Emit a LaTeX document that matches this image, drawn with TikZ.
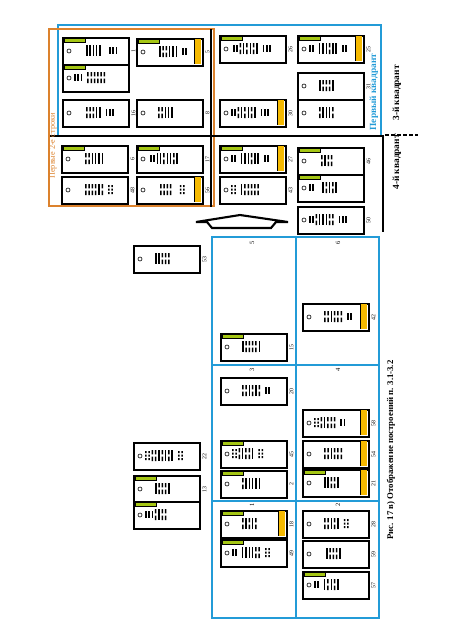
\documentclass[tikz,border=0pt]{standalone}
\usepackage{fontspec}
\setmainfont{Liberation Serif}
\usetikzlibrary{calc}
\definecolor{quadblue}{RGB}{35,155,215}
\definecolor{rowsorange}{RGB}{220,130,45}
\definecolor{tabgreen}{RGB}{165,198,20}
\definecolor{tabamber}{RGB}{245,185,0}
\tikzset{
  card/.style={rectangle, draw, line width=1.3pt, fill=white, anchor=north west,
    minimum width=1.98cm, minimum height=0.81cm, inner sep=0pt},
  greentab/.style={fill=tabgreen, draw=black, line width=0.4pt},
  cardno/.style={rotate=90, inner sep=0pt, font=\fontsize{5}{6}\selectfont},
  cellno/.style={rotate=90, inner sep=0pt, font=\fontsize{5.5}{6}\selectfont},
  quadline/.style={draw=quadblue, line width=1.2pt},
  rowsline/.style={draw=rowsorange, line width=1.2pt},
  axisline/.style={line width=2pt},
  vtext/.style={rotate=90, inner sep=0pt, font=\fontsize{8}{9}\selectfont\bfseries},
}
% one card: name, top-left, number, green tab, amber tab, bars start, bars
\newcommand{\unitcard}[7]{%
  \node[card] (#1) at (#2) {};
  \begin{scope}[shift={(#1.north west)}]
    \ifnum#4=1 \filldraw[greentab] (2,1.6) rectangle (23,5.4); \fi
    \ifnum#5=1 \fill[tabamber] (58,0.8) rectangle (65.2,26.2);
      \draw[line width=0.4pt] (58,0.8) -- (58,26.2); \fi
    \draw[line width=0.5pt] (7,14) circle (0.06cm);
    \foreach \b [count=\i] in {#7} {
      \pgfmathsetmacro\bx{#6+(\i-1)*3.3}
      \if l\b \fill (\bx,8) rectangle ++(1.5,11); \fi
      \if d\b \fill (\bx,8) rectangle ++(1.5,4.3) (\bx,14.6) rectangle ++(1.5,4.4); \fi
      \if t\b \fill (\bx,9) rectangle ++(1.5,2) (\bx,12.6) rectangle ++(1.5,2)
                   (\bx,16.2) rectangle ++(1.5,2); \fi
      \if s\b \fill (\bx,10) rectangle ++(1.5,7); \fi
    }
  \end{scope}
  \if\relax\detokenize{#3}\relax\else
    \node[cardno] (#1-no) at ([xshift=0.12cm]#1.east) {#3};
  \fi
}

\begin{document}
\begin{tikzpicture}[x=0.03cm, y=-0.03cm]
  \useasboundingbox (0,0) rectangle (450,637);

  % frames of the first quadrant
  \draw[quadline] (58,25) rectangle (381,136);
  \draw[rowsline] (49,29) rectangle (214,206);
  \draw[axisline] (211,29) -- (211,207);
  \draw[axisline] (50,136) -- (384,136);
  \draw[axisline] (383,136) -- (383,232);
  \draw[axisline, dash pattern=on 3.2pt off 2pt] (385,135) -- (418,135);

  % first quadrant
  \unitcard{c1}{62,37}{1}{1}{0}{24}{l,l,l,l,l,n,n,s,s,s}
  \unitcard{c1b}{62,64}{}{1}{0}{12}{s,s,s,n,d,d,d,d,d,d}
  \unitcard{c5}{136,38}{5}{1}{1}{23}{l,d,d,l,l,l,n,s,s}
  \unitcard{c16}{62,99}{16}{0}{0}{24}{d,d,d,l,l,n,s,s,s}
  \unitcard{c8}{136,99}{8}{0}{0}{22}{d,d,l,l,l}
  \unitcard{c6}{61,145}{6}{1}{0}{24}{d,d,l,l,l,l}
  \unitcard{c48}{61,176}{48}{0}{0}{24}{d,d,d,d,l,d,n,t,t}
  \unitcard{c17}{136,145}{17}{1}{0}{14}{s,s,l,l,d,l,l,d,l}
  \unitcard{c56}{136,176}{56}{0}{1}{24}{d,d,d,d,n,n,t,t}
  \unitcard{c26}{219,35}{26}{1}{0}{14}{s,s,d,l,d,l,d,l,n,s,s,s}
  \unitcard{c25}{297,35}{25}{1}{1}{12}{s,s,n,l,l,l,d,l,l,n,s,s}
  \unitcard{c31}{297,72}{31}{0}{0}{22}{l,d,d,d,l}
  \unitcard{c31b}{297,99}{}{0}{0}{22}{d,l,l,l,d}
  \unitcard{c30}{219,99}{30}{0}{1}{12}{s,s,d,l,d,l,d,l,n,s,s,s}
  \unitcard{c27}{219,145}{27}{1}{1}{12}{s,s,n,l,l,l,d,l,l,n,s,s}
  \unitcard{c43}{219,176}{43}{0}{0}{12}{t,t,n,l,d,d,d,d,d}
  \unitcard{c46}{297,147}{46}{1}{0}{24}{d,l,d,d}
  \unitcard{c46b}{297,174}{}{1}{0}{12}{s,s,n,n,l,d,l,d,l}
  \unitcard{c50}{297,206}{50}{0}{0}{12}{s,s,d,l,l,l,d,d,n,s,s,s}

  \node[vtext, text=quadblue] (firstquad) at (374,92) {Первый квадрант};
  \node[rotate=90, inner sep=0pt, text=rowsorange, font=\fontsize{7}{8}\selectfont]
    (firstrows) at (53,146) {Первые 2-е строки};
  \node[vtext] (thirdquad) at (397,93) {3-й квадрант};
  \node[vtext] (fourthquad) at (397,162) {4-й квадрант};

  % shift arrow
  \draw[line width=1.8pt, line join=miter] (196,222) -- (240,215) -- (288,222)
    -- (276,222) -- (271,228) -- (212,228) -- (207,222) -- cycle;

  % cells 1-6
  \draw[quadline] (212,237) rectangle (379,618);
  \draw[quadline] (296,237) -- (296,618);
  \draw[quadline] (212,365) -- (379,365);
  \draw[quadline] (212,501) -- (379,501);
  \node[cellno] (cell5) at (252,243) {5};
  \node[cellno] (cell6) at (338,243) {6};
  \node[cellno] (cell3) at (252,370) {3};
  \node[cellno] (cell4) at (338,370) {4};
  \node[cellno] (cell1) at (252,505) {1};
  \node[cellno] (cell2) at (338,505) {2};

  \unitcard{c53}{133,245}{53}{0}{0}{22}{l,l,d,d,d}
  \unitcard{c22}{133,442}{22}{0}{0}{12}{t,t,d,d,l,d,l,d,l,n,t,t}
  \unitcard{c13}{133,475}{13}{1}{0}{22}{l,d,d,d,l}
  \unitcard{c13b}{133,501}{}{1}{0}{12}{s,s,s,d,l,d,d}
  \unitcard{c15}{220,333}{15}{1}{0}{22}{l,d,d,d,d,l}
  \unitcard{c20}{220,377}{20}{0}{0}{22}{d,d,l,d,l,d,n,s,s}
  \unitcard{c42}{302,303}{42}{0}{1}{22}{d,d,l,d,d,d,n,s,s}
  \unitcard{c45}{220,440}{45}{1}{0}{12}{t,t,d,l,d,d,l,n,t,t}
  \unitcard{c2}{220,470}{2}{1}{0}{22}{d,l,l,l,l,l}
  \unitcard{c18}{220,510}{18}{1}{1}{22}{d,l,d,l,d}
  \unitcard{c49}{220,539}{49}{1}{0}{12}{s,s,n,l,l,l,l,d,d,n,t,t}
  \unitcard{c58}{302,409}{58}{0}{1}{12}{t,t,d,l,d,d,d,n,s,s}
  \unitcard{c54}{302,440}{54}{0}{1}{22}{d,d,l,d,d,d}
  \unitcard{c21}{302,469}{21}{1}{1}{22}{l,l,d,d,l}
  \unitcard{c28}{302,510}{28}{0}{0}{22}{d,d,l,d,l,n,t,t}
  \unitcard{c59}{302,540}{59}{0}{0}{24}{l,d,d,d,l}
  \unitcard{c57}{302,571}{57}{1}{0}{12}{s,s,n,l,d,l,d,l}

  \node[rotate=90, inner sep=0pt, font=\fontsize{7.5}{9}\selectfont\bfseries]
    (caption) at (391,450) {Рис. 17 в) Отображение построений п. 3.1-3.2};
\end{tikzpicture}
\end{document}
